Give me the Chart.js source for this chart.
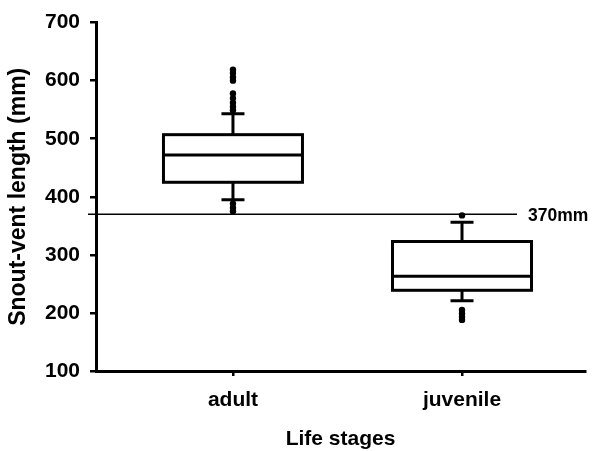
<!DOCTYPE html>
<html><head><meta charset="utf-8">
<script src="https://cdn.jsdelivr.net/npm/chart.js@4/dist/chart.umd.min.js"></script>
<style>html,body{margin:0;padding:0;background:#fff;} canvas{display:block;}</style>
</head><body>
<canvas id="c" width="598" height="451"></canvas>
<script>
const categories = ['adult', 'juvenile'];
const whiskerLow = [395, 221];
const q1 = [425, 239];
const median = [472, 263];
const q3 = [507, 323];
const whiskerHigh = [543, 356];
const outliersAdult = [619, 613, 606, 600, 578, 570, 562, 555, 549, 388, 381, 375];
const outliersJuvenile = [368, 205, 199, 193, 188];
const refValue = 370;
const refLabel = '370mm';
const yTickValues = [100, 200, 300, 400, 500, 600, 700];
const xTitle = 'Life stages';
const yTitle = 'Snout-vent length (mm)';
const FONT = '"Liberation Sans", Arial, sans-serif';

const boxPlugin = {
  id: 'boxes',
  beforeDatasetsDraw(chart) {
    const {ctx, scales: {x, y}} = chart;
    const halfBox = 69.5, halfCap = 11.5;
    ctx.save();
    ctx.strokeStyle = '#000';
    ctx.lineWidth = 3;
    categories.forEach((c, i) => {
      const cx = x.getPixelForValue(i + 1);
      const yLo = y.getPixelForValue(whiskerLow[i]);
      const yQ1 = y.getPixelForValue(q1[i]);
      const yMed = y.getPixelForValue(median[i]);
      const yQ3 = y.getPixelForValue(q3[i]);
      const yHi = y.getPixelForValue(whiskerHigh[i]);
      ctx.beginPath();
      ctx.moveTo(cx, yQ1); ctx.lineTo(cx, yLo);
      ctx.moveTo(cx, yQ3); ctx.lineTo(cx, yHi);
      ctx.stroke();
      ctx.beginPath();
      ctx.moveTo(cx - halfCap, yLo); ctx.lineTo(cx + halfCap, yLo);
      ctx.moveTo(cx - halfCap, yHi); ctx.lineTo(cx + halfCap, yHi);
      ctx.stroke();
      ctx.fillStyle = '#fff';
      ctx.fillRect(cx - halfBox, yQ3, halfBox * 2, yQ1 - yQ3);
      ctx.strokeRect(cx - halfBox, yQ3, halfBox * 2, yQ1 - yQ3);
      ctx.beginPath();
      ctx.moveTo(cx - halfBox, yMed); ctx.lineTo(cx + halfBox, yMed);
      ctx.stroke();
    });
    ctx.restore();
  },
  afterDraw(chart) {
    const {ctx, scales: {y}, chartArea} = chart;
    const yy = y.getPixelForValue(refValue);
    const x0 = chartArea.left - 8, x1 = chartArea.right - 68;
    ctx.save();
    ctx.strokeStyle = '#000';
    ctx.lineWidth = 1.5;
    ctx.beginPath();
    ctx.moveTo(x0, yy); ctx.lineTo(x1, yy);
    ctx.stroke();
    ctx.fillStyle = '#000';
    ctx.font = 'bold 17.5px ' + FONT;
    ctx.textAlign = 'left';
    ctx.textBaseline = 'middle';
    ctx.fillText(refLabel, x1 + 11, yy + 2);
    ctx.restore();
  }
};

new Chart(document.getElementById('c'), {
  type: 'scatter',
  data: {
    datasets: [
      { data: outliersAdult.map(v => ({x: 1, y: v})), pointRadius: 3.2, backgroundColor: '#000', borderWidth: 0 },
      { data: outliersJuvenile.map(v => ({x: 2, y: v})), pointRadius: 3.2, backgroundColor: '#000', borderWidth: 0 }
    ]
  },
  options: {
    responsive: false,
    devicePixelRatio: 1,
    animation: false,
    layout: { padding: { top: 20, right: 13, left: 0, bottom: 0 } },
    plugins: { legend: { display: false }, tooltip: { enabled: false } },
    scales: {
      x: {
        type: 'linear', min: 0.402, max: 2.537,
        afterBuildTicks: s => { s.ticks = categories.map((c, i) => ({ value: i + 1 })); },
        afterFit: s => { s.height = 80; },
        ticks: {
          callback: v => categories[Math.round(v) - 1] || '',
          autoSkip: false, maxRotation: 0, color: '#000', padding: 12,
          font: { family: FONT, size: 21, weight: 'bold' }
        },
        grid: { drawOnChartArea: false, drawTicks: true, tickLength: 5, color: '#000', lineWidth: 2.5 },
        border: { display: true, color: '#000', width: 3 },
        title: {
          display: true, text: xTitle, color: '#000',
          font: { family: FONT, size: 21, weight: 'bold', lineHeight: 1 },
          padding: { top: 0, bottom: 1 }
        }
      },
      y: {
        type: 'linear', min: 100, max: 700,
        afterBuildTicks: s => { s.ticks = yTickValues.map(v => ({ value: v })); },
        afterFit: s => { s.width = 96; },
        ticks: { color: '#000', padding: 10, font: { family: FONT, size: 21, weight: 'bold' } },
        grid: { drawOnChartArea: false, drawTicks: true, tickLength: 6, color: '#000', lineWidth: 2.5 },
        border: { display: true, color: '#000', width: 3 },
        title: {
          display: true, text: yTitle, color: '#000',
          font: { family: FONT, size: 23, weight: 'bold', lineHeight: 1 },
          padding: { top: 7, bottom: 0 }
        }
      }
    }
  },
  plugins: [boxPlugin]
});
</script>
</body></html>
